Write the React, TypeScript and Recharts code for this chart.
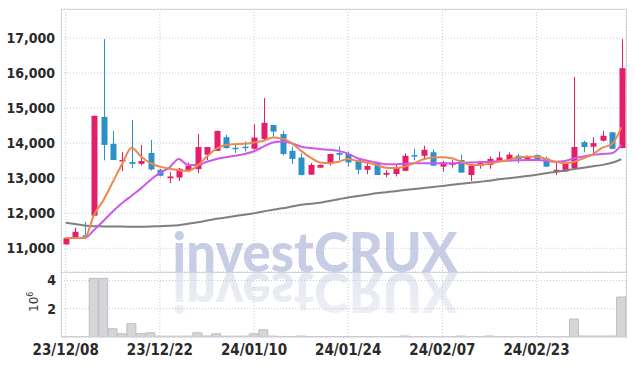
import React from 'react'
import {
  ComposedChart,
  BarChart,
  Bar,
  Line,
  XAxis,
  YAxis,
  CartesianGrid,
} from 'recharts'

const dates = [
  '23/12/08', '23/12/11', '23/12/12', '23/12/13', '23/12/14', '23/12/15', '23/12/18', '23/12/19', '23/12/20', '23/12/21',
  '23/12/22', '23/12/26', '23/12/27', '23/12/28', '24/01/02', '24/01/03', '24/01/04', '24/01/05', '24/01/08', '24/01/09',
  '24/01/10', '24/01/11', '24/01/12', '24/01/15', '24/01/16', '24/01/17', '24/01/18', '24/01/19', '24/01/22', '24/01/23',
  '24/01/24', '24/01/25', '24/01/26', '24/01/29', '24/01/30', '24/01/31', '24/02/01', '24/02/02', '24/02/05', '24/02/06',
  '24/02/07', '24/02/08', '24/02/13', '24/02/14', '24/02/15', '24/02/16', '24/02/19', '24/02/20', '24/02/21', '24/02/22',
  '24/02/23', '24/02/26', '24/02/27', '24/02/28', '24/02/29', '24/03/04', '24/03/05', '24/03/06', '24/03/07', '24/03/08',
]

const opens = [
  11110, 11300, 11370, 11930, 14750, 13980, 13480, 13460, 13410, 13720,
  13240, 13000, 13020, 13230, 13260, 13670, 13780, 14170, 13870, 13900,
  13840, 14120, 14520, 14260, 13780, 13590, 13100, 13300, 13430, 13720,
  13690, 13520, 13240, 13430, 13100, 13120, 13210, 13660, 13640, 13740,
  13330, 13380, 13520, 13090, 13350, 13380, 13490, 13510, 13640, 13540,
  13660, 13570, 13210, 13190, 13290, 14030, 13900, 14070, 14310, 13860,
]
const highs = [
  11300, 11590, 11750, 14790, 16970, 14350, 13740, 14660, 13950, 14090,
  13270, 13170, 13290, 13450, 14260, 13890, 14360, 14240, 13970, 14050,
  14540, 15290, 14520, 14350, 13900, 13710, 13430, 13390, 13700, 13900,
  13760, 13540, 13470, 13440, 13230, 13410, 13710, 13840, 13930, 13830,
  13500, 13520, 13670, 13370, 13490, 13620, 13760, 13740, 13690, 13650,
  13680, 13620, 13430, 13420, 15890, 14070, 14170, 14350, 14320, 16970,
]
const lows = [
  11100, 11300, 11300, 11920, 13510, 13520, 13200, 13290, 13360, 13220,
  13050, 12860, 12920, 13170, 13140, 13520, 13780, 13840, 13720, 13760,
  13810, 14070, 14190, 13650, 13400, 13080, 13100, 13300, 13360, 13520,
  13330, 13110, 13110, 13090, 13030, 13050, 13200, 13520, 13570, 13340,
  13190, 13300, 13150, 12920, 13270, 13270, 13490, 13510, 13430, 13490,
  13500, 13320, 13090, 13180, 13280, 13740, 13670, 14050, 13830, 13850,
]
const closes = [
  11290, 11470, 11340, 14780, 13950, 13520, 13520, 13410, 13490, 13250,
  13070, 13050, 13270, 13350, 13890, 13890, 14350, 13860, 13840, 13860,
  14160, 14580, 14330, 13690, 13550, 13090, 13380, 13380, 13690, 13670,
  13450, 13240, 13350, 13090, 13150, 13300, 13640, 13640, 13810, 13360,
  13450, 13440, 13160, 13360, 13430, 13550, 13590, 13670, 13540, 13600,
  13520, 13330, 13240, 13410, 13890, 13890, 14000, 14210, 13840, 16140,
]

const ma5 = [
  11290, 11290, 11290, 11950, 12370, 12890, 13410, 13870, 13620, 13430,
  13330, 13270, 13230, 13210, 13360, 13620, 13840, 13950, 13970, 13980,
  14020, 14070, 14160, 14130, 14000, 13780, 13590, 13450, 13430, 13470,
  13550, 13490, 13450, 13380, 13300, 13290, 13330, 13430, 13540, 13590,
  13600, 13570, 13470, 13380, 13380, 13410, 13470, 13520, 13590, 13610,
  13610, 13550, 13470, 13430, 13470, 13570, 13690, 13870, 13970, 14450,
]
const ma20 = [
  11290, 11290, 11290, 11520, 11780, 12050, 12290, 12500, 12710, 12950,
  13150, 13300, 13550, 13380, 13380, 13470, 13550, 13600, 13640, 13690,
  13770, 13900, 14020, 14050, 14000, 13900, 13860, 13830, 13810, 13780,
  13700, 13570, 13500, 13450, 13400, 13400, 13410, 13430, 13430, 13430,
  13430, 13430, 13440, 13450, 13460, 13470, 13490, 13500, 13510, 13520,
  13520, 13500, 13470, 13490, 13570, 13620, 13670, 13690, 13710, 13950,
]
const ma120 = [
  11730, 11690, 11650, 11630, 11625, 11620, 11620, 11615, 11615, 11620,
  11630, 11640, 11660, 11700, 11740, 11790, 11840, 11880, 11920, 11960,
  12000, 12050, 12100, 12140, 12190, 12240, 12270, 12300, 12350, 12400,
  12450, 12490, 12530, 12570, 12600, 12630, 12660, 12690, 12720, 12750,
  12780, 12810, 12840, 12870, 12900, 12930, 12970, 13000, 13030, 13060,
  13100, 13140, 13180, 13220, 13260, 13300, 13340, 13380, 13440, 13540,
]

const volumes = [
  10000, 10000, 15000, 4150000, 4150000, 580000, 230000, 940000, 230000, 300000,
  60000, 60000, 60000, 60000, 300000, 70000, 230000, 60000, 60000, 60000,
  230000, 510000, 60000, 40000, 30000, 70000, 30000, 30000, 30000, 30000,
  30000, 30000, 30000, 20000, 20000, 30000, 70000, 20000, 20000, 20000,
  20000, 20000, 70000, 20000, 20000, 70000, 20000, 20000, 20000, 20000,
  20000, 20000, 20000, 20000, 1270000, 70000, 70000, 70000, 70000, 2830000,
]

const tickDates = ['23/12/08', '23/12/22', '24/01/10', '24/01/24', '24/02/07', '24/02/23']
const priceTicks = [11000, 12000, 13000, 14000, 15000, 16000, 17000]
const volumeTicks = [2000000, 4000000]

const data = dates.map((date, i) => ({
  date,
  open: opens[i],
  high: highs[i],
  low: lows[i],
  close: closes[i],
  range: [lows[i], highs[i]],
  ma5: ma5[i],
  ma20: ma20[i],
  ma120: ma120[i],
  volume: volumes[i],
}))

const UP = '#e41e69'
const DOWN = '#2b92c8'
const GRID = '#c6cadd'
const BORDER = '#d3d5de'
const FONT = "'Liberation Sans Narrow', 'DejaVu Sans Condensed', sans-serif"
const tickStyle = { fill: '#2a2a2a', fontSize: 14, fontWeight: 'bold' as const, fontFamily: FONT }

// candle body + wick, drawn from the [low, high] range bar
function Candle(props: any) {
  const { x, y, width, height, payload } = props
  if (!payload) return null
  const { open, close, high, low } = payload
  const color = close >= open ? UP : DOWN
  const top = Math.min(y, y + height)
  const h = Math.abs(height)
  const ratio = high === low ? 0 : h / (high - low)
  const cx = Math.round(x + width / 2) + 0.5
  const bodyTop = top + (high - Math.max(open, close)) * ratio
  const bodyH = Math.max(1.5, Math.abs(open - close) * ratio)
  const bw = 6
  return (
    <g>
      <line x1={cx} x2={cx} y1={top} y2={top + h} stroke={color} strokeWidth={1} />
      <rect x={cx - bw / 2} y={bodyTop} width={bw} height={bodyH} fill={color} />
    </g>
  )
}

export default function App() {
  return (
    <div style={{ position: 'absolute', left: 0, top: 0, width: 635, height: 366, background: '#fff', overflow: 'hidden' }}>
      <svg width={635} height={366} style={{ position: 'absolute', left: 0, top: 0 }}>
        <defs>
          <linearGradient id="refl" x1="0" y1="0" x2="0" y2="1">
            <stop offset="0%" stopColor="#f2f3f8" />
            <stop offset="100%" stopColor="#e1e4ee" />
          </linearGradient>
        </defs>
        <text x={315} y={272} textAnchor="middle" fontSize={56} fontWeight={900} fontFamily="Lato, Roboto, sans-serif"
          fill="#c7cde5" textLength={285} lengthAdjust="spacingAndGlyphs">investCRUX</text>
        <g transform="translate(0,545) scale(1,-1)">
          <text x={315} y={272} textAnchor="middle" fontSize={56} fontWeight={900} fontFamily="Lato, Roboto, sans-serif"
            fill="url(#refl)" textLength={285} lengthAdjust="spacingAndGlyphs">investCRUX</text>
        </g>
      </svg>

      <div style={{ position: 'absolute', left: 0, top: 0 }}>
        <ComposedChart width={635} height={273} data={data} margin={{ top: 9, right: 9, left: 0, bottom: 1 }}>
          <CartesianGrid stroke={GRID} strokeDasharray="1 2" />
          <XAxis dataKey="date" hide ticks={tickDates} interval={0} />
          <YAxis
            domain={[10323, 17829]}
            ticks={priceTicks}
            allowDataOverflow
            width={61}
            tickSize={0}
            tickMargin={6}
            axisLine={false}
            tickLine={false}
            tick={tickStyle}
            tickFormatter={(v: number) => v.toLocaleString('en-US')}
          />
          <Line type="monotone" dataKey="ma120" stroke="#7f7f7f" strokeWidth={2} dot={false} isAnimationActive={false} />
          <Line type="monotone" dataKey="ma20" stroke="#cf58ec" strokeWidth={2} dot={false} isAnimationActive={false} />
          <Line type="monotone" dataKey="ma5" stroke="#ee8750" strokeWidth={2} dot={false} isAnimationActive={false} />
          <Bar dataKey="range" shape={<Candle />} isAnimationActive={false} />
        </ComposedChart>
      </div>

      <div style={{ position: 'absolute', left: 0, top: 265 }}>
        <BarChart width={635} height={97} data={data} margin={{ top: 7, right: 9, left: 0, bottom: 0 }} barCategoryGap={0}>
          <CartesianGrid stroke={GRID} strokeDasharray="1 2" />
          <XAxis
            dataKey="date"
            ticks={tickDates}
            interval={0}
            height={25}
            tickLine={false}
            axisLine={{ stroke: BORDER }}
            tickSize={6}
            tickMargin={1}
            tick={{ ...tickStyle, fontSize: 15 }}
          />
          <YAxis
            domain={[0, 4600000]}
            ticks={volumeTicks}
            allowDataOverflow
            width={61}
            tickSize={0}
            tickMargin={5}
            axisLine={false}
            tickLine={false}
            tick={tickStyle}
            tickFormatter={(v: number) => String(v / 1000000)}
          />
          <Bar dataKey="volume" fill="#d6d6d9" stroke="#bdbdc3" strokeWidth={1} isAnimationActive={false} />
        </BarChart>
      </div>

      <div style={{ position: 'absolute', left: 61, top: 9, width: 566, height: 264, border: `1px solid ${BORDER}`, boxSizing: 'border-box', pointerEvents: 'none' }} />
      <div style={{ position: 'absolute', left: 61, top: 272, width: 566, height: 66, borderLeft: `1px solid ${BORDER}`, borderRight: `1px solid ${BORDER}`, boxSizing: 'border-box', pointerEvents: 'none' }} />

      <svg width={60} height={366} style={{ position: 'absolute', left: 0, top: 0, pointerEvents: 'none' }}>
        <text transform="translate(38,312) rotate(-90)" fontSize={12} fill="#333" fontFamily="'DejaVu Sans', sans-serif">
          10<tspan dy={-5} fontSize={8}>6</tspan>
        </text>
      </svg>
    </div>
  )
}
